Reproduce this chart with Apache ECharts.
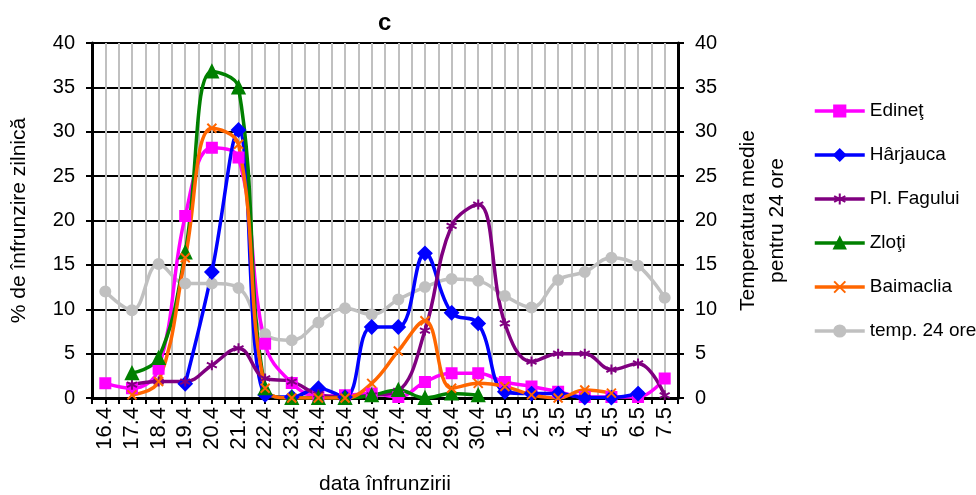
<!DOCTYPE html>
<html>
<head>
<meta charset="utf-8">
<script src="https://cdn.jsdelivr.net/npm/echarts@6.0.0/dist/echarts.min.js"></script>
<style>
html, body { margin: 0; padding: 0; background: #fff; }
#main { width: 976px; height: 495px; }
</style>
</head>
<body>
<div id="main"></div>
<script>
var dates = ['16.4','17.4','18.4','19.4','20.4','21.4','22.4','23.4','24.4','25.4','26.4',
             '27.4','28.4','29.4','30.4','1.5','2.5','3.5','4.5','5.5','6.5','7.5'];

var edinet    = [1.65, 1.1, 3.3, 20.5, 28.2, 27.1, 6.1, 1.7, 0.2, 0.3, 0.5, 0.1, 1.8, 2.8, 2.8, 1.8, 1.3, 0.7, 0.1, 0.1, 0.1, 2.2];
var harjauca  = [null, null, null, 1.6, 14.2, 30.2, 0.35, 0.1, 1.1, 0.1, 8.0, 8.0, 16.3, 9.6, 8.4, 0.7, 0.5, 0.5, 0.05, 0.05, 0.5, null];
var fagului   = [null, 1.5, 1.85, 1.85, 3.7, 5.6, 2.2, 1.85, 0.4, 0.1, 0.3, 0.8, 7.6, 19.4, 21.8, 8.4, 4.1, 5.0, 5.0, 3.2, 3.9, 0.3];
var zloti     = [null, 2.8, 4.5, 16.4, 36.8, 35.0, 1.1, 0, 0, 0, 0.3, 0.9, 0, 0.5, 0.3, null, null, null, null, null, null, null];
var baimaclia = [null, 0.35, 1.85, 15.8, 30.4, 28.6, 1.1, 0, 0, 0, 1.65, 5.3, 8.7, 1.1, 1.65, 1.3, 0.35, 0, 0.9, 0.55, null, null];
var temp24    = [12.0, 9.9, 15.1, 12.9, 12.9, 12.4, 7.2, 6.5, 8.5, 10.1, 9.4, 11.1, 12.5, 13.4, 13.2, 11.5, 10.2, 13.3, 14.2, 15.8, 14.9, 11.3];

var yTicks = [0, 5, 10, 15, 20, 25, 30, 35, 40];

var FONT = "'Liberation Sans', Arial, sans-serif";
var xMark = 'path://M0,0L10,10M10,0L0,10';
var starMark = 'path://M5,0L5,10M0,2.5L10,7.5M0,7.5L10,2.5';

// pairs [index, value] so the points sit on the value x axis
function pts(arr) {
    return arr.map(function (v, i) { return [i, v]; });
}

function makeSeries(name, arr, color, symbol, size, axis) {
    return {
        name: name,
        type: 'line',
        yAxisIndex: axis || 0,
        smooth: 0.4,
        data: pts(arr),
        symbol: symbol,
        symbolSize: size,
        lineStyle: { color: color, width: 3.5 },
        itemStyle: { color: color, borderColor: color, borderWidth: 2 }
    };
}

var option = {
    animation: false,
    backgroundColor: '#fff',
    textStyle: { fontFamily: FONT, color: '#000' },
    title: {
        text: 'c',
        left: 373,
        top: 6,
        textStyle: { fontFamily: FONT, fontSize: 24, fontWeight: 'bold', color: '#000' }
    },
    legend: {
        orient: 'vertical',
        left: 808,
        top: 96,
        itemWidth: 50,
        itemHeight: 14,
        itemGap: 24,
        lineStyle: { width: 3.5 },
        textStyle: { fontFamily: FONT, fontSize: 19, color: '#000', lineHeight: 20 },
        data: ['Edineţ', 'Hârjauca', 'Pl. Fagului', 'Zloţi', 'Baimaclia', 'temp. 24 ore']
    },
    grid: { left: 92, right: 298, top: 43, bottom: 97, outerBoundsMode: 'none' },
    xAxis: {
        type: 'value',
        min: -0.5,
        max: 21.5,
        interval: 0.5,
        name: 'data înfrunzirii',
        nameLocation: 'middle',
        nameGap: 76,
        nameTextStyle: { fontFamily: FONT, fontSize: 21, color: '#000' },
        axisLine: { onZero: false, lineStyle: { color: '#000', width: 3 } },
        axisTick: { show: true, length: 6, lineStyle: { color: '#000', width: 2 } },
        splitLine: { show: true, lineStyle: { color: '#c0c0c0', width: 2 } },
        axisLabel: {
            rotate: 90,
            margin: 9,
            fontFamily: FONT,
            fontSize: 22,
            color: '#000',
            showMinLabel: true,
            showMaxLabel: true,
            formatter: function (v) {
                return Number.isInteger(v) && dates[v] !== undefined ? dates[v] : '';
            }
        }
    },
    yAxis: [{
        type: 'value',
        min: yTicks[0],
        max: yTicks[yTicks.length - 1],
        interval: 5,
        name: '% de înfrunzire zilnică',
        nameLocation: 'middle',
        nameRotate: 90,
        nameGap: 62,
        nameTextStyle: { fontFamily: FONT, fontSize: 21, color: '#000' },
        axisLine: { show: true, onZero: false, lineStyle: { color: '#000', width: 3 } },
        axisTick: { show: true, length: 6, lineStyle: { color: '#000', width: 2 } },
        splitLine: { show: true, lineStyle: { color: '#000', width: 2 } },
        axisLabel: { margin: 17, fontFamily: FONT, fontSize: 20, color: '#000' }
    }, {
        type: 'value',
        position: 'right',
        min: yTicks[0],
        max: yTicks[yTicks.length - 1],
        interval: 5,
        name: 'Temperatura medie\npentru 24 ore',
        nameLocation: 'middle',
        nameRotate: 90,
        nameGap: 56,
        nameTextStyle: { fontFamily: FONT, fontSize: 21, color: '#000', lineHeight: 29, align: 'center' },
        axisLine: { show: true, onZero: false, lineStyle: { color: '#000', width: 3 } },
        axisTick: { show: true, length: 6, lineStyle: { color: '#000', width: 2 } },
        splitLine: { show: false },
        axisLabel: { margin: 17, fontFamily: FONT, fontSize: 20, color: '#000' }
    }],
    series: [
        makeSeries('temp. 24 ore', temp24, '#c0c0c0', 'circle', 10, 1),
        makeSeries('Edineţ', edinet, '#ff00ff', 'rect', 10),
        makeSeries('Hârjauca', harjauca, '#0000ff', 'diamond', 13),
        makeSeries('Pl. Fagului', fagului, '#800080', starMark, 10),
        makeSeries('Zloţi', zloti, '#008000', 'triangle', 12),
        makeSeries('Baimaclia', baimaclia, '#ff6600', xMark, 9)
    ]
};

var myChart = echarts.init(document.getElementById('main'));
myChart.setOption(option);
</script>
</body>
</html>
